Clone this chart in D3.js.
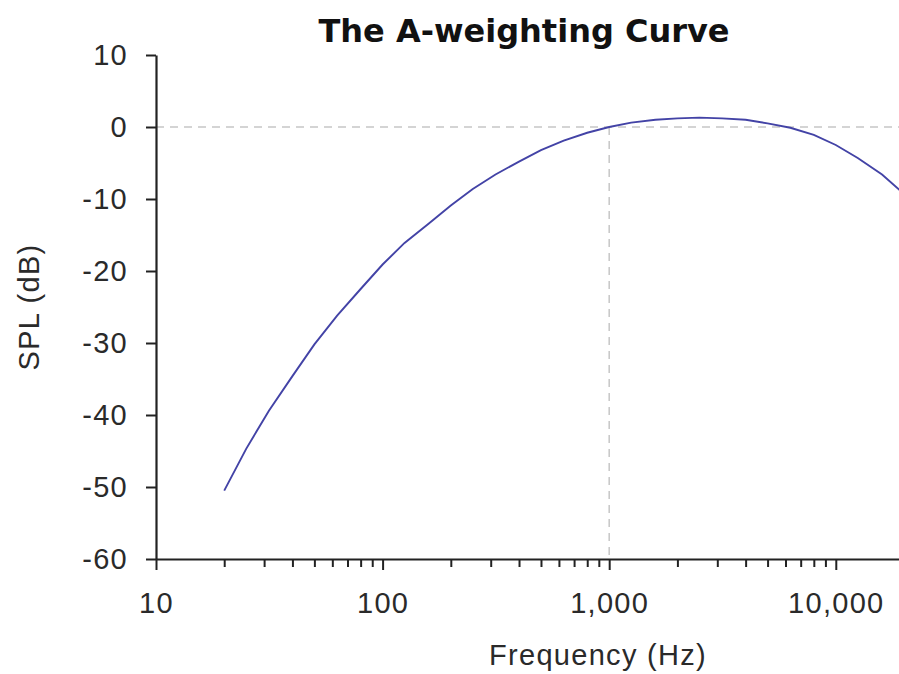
<!DOCTYPE html>
<html><head><meta charset="utf-8">
<script src="https://cdn.jsdelivr.net/npm/d3@7"></script>
<style>
html,body{margin:0;padding:0;background:#fff;overflow:hidden}
svg{display:block}
</style></head><body>
<script>
const frequencies = [20,25,31.5,40,50,63,80,100,125,160,200,250,315,400,500,630,800,1000,1250,1600,2000,2500,3150,4000,5000,6300,8000,10000,12500,16000,20000];
const splValues = [-50.5,-44.7,-39.4,-34.6,-30.2,-26.2,-22.5,-19.1,-16.1,-13.4,-10.9,-8.6,-6.6,-4.8,-3.2,-1.9,-0.8,0,0.6,1.0,1.2,1.3,1.2,1.0,0.5,-0.1,-1.1,-2.5,-4.3,-6.6,-9.3];
const yTicks = [10,0,-10,-20,-30,-40,-50,-60];
const xMajorTicks = [10,100,1000,10000];
const xMinorTicks = [20,30,40,50,60,70,80,90,200,300,400,500,600,700,800,900,2000,3000,4000,5000,6000,7000,8000,9000];
const refFrequency = 1000, refLevel = 0;

const W = 899, H = 674;
const svg = d3.select("body").append("svg").attr("width", W).attr("height", H);
const x = d3.scaleLog().domain([10, 20000]).range([156, 904]);
const y = d3.scaleLinear().domain([-60, 10]).range([559, 55]);
const font = "'Liberation Sans', Arial, sans-serif";
const labelSize = 29;
const spacing = 1.3;

// reference dashed lines
svg.append("line").attr("x1", x(10)).attr("x2", W).attr("y1", y(refLevel)).attr("y2", y(refLevel))
  .attr("stroke", "#c6c6c6").attr("stroke-width", 1.5).attr("stroke-dasharray", "8,6");
svg.append("line").attr("x1", x(refFrequency)).attr("x2", x(refFrequency)).attr("y1", y(refLevel)).attr("y2", y(-60))
  .attr("stroke", "#c6c6c6").attr("stroke-width", 1.5).attr("stroke-dasharray", "8,6");

// curve
const data = frequencies.map((f, i) => ({f, v: splValues[i]}));
svg.append("path").datum(data)
  .attr("fill", "none").attr("stroke", "#4343a6").attr("stroke-width", 1.9)
  .attr("d", d3.line().x(d => x(d.f)).y(d => y(d.v)));

// y axis
const yAxis = svg.append("g").attr("transform", `translate(${x(10)},0)`)
  .call(d3.axisLeft(y).tickValues(yTicks).tickSize(10).tickPadding(18).tickSizeOuter(0).tickFormat(d => String(d)));
yAxis.select(".domain").attr("stroke", "#222").attr("stroke-width", 2.2);
yAxis.selectAll(".tick line").attr("stroke", "#222").attr("stroke-width", 2);
yAxis.selectAll("text").attr("font-family", font).attr("font-size", labelSize).attr("fill", "#2a2a2a").attr("letter-spacing", spacing);

// x axis
const xAxis = svg.append("g").attr("transform", `translate(0,${y(-60)})`)
  .call(d3.axisBottom(x).tickValues(xMajorTicks).tickSize(11).tickPadding(22).tickSizeOuter(0).tickFormat(d3.format(",")));
xAxis.select(".domain").attr("stroke", "#222").attr("stroke-width", 2.2);
xAxis.selectAll(".tick line").attr("stroke", "#222").attr("stroke-width", 2);
xAxis.selectAll("text").attr("font-family", font).attr("font-size", labelSize).attr("fill", "#2a2a2a").attr("letter-spacing", spacing);
svg.append("g").attr("transform", `translate(0,${y(-60)})`)
  .call(d3.axisBottom(x).tickValues(xMinorTicks).tickSize(8).tickFormat(""))
  .call(g => g.select(".domain").remove())
  .selectAll(".tick line").attr("stroke", "#222").attr("stroke-width", 2);

// title and axis titles
svg.append("text").attr("x", 524).attr("y", 42).attr("text-anchor", "middle")
  .attr("font-family", "'DejaVu Sans', Verdana, sans-serif").attr("font-weight", "bold").attr("font-size", 32)
  .attr("fill", "#111").text("The A-weighting Curve");
svg.append("text").attr("x", 598).attr("y", 665).attr("text-anchor", "middle")
  .attr("font-family", font).attr("font-size", labelSize).attr("fill", "#2a2a2a").attr("letter-spacing", spacing).text("Frequency (Hz)");
svg.append("text").attr("transform", "translate(39,307) rotate(-90)").attr("text-anchor", "middle")
  .attr("font-family", font).attr("font-size", labelSize).attr("fill", "#2a2a2a").attr("letter-spacing", spacing).text("SPL (dB)");
</script>
</body></html>
